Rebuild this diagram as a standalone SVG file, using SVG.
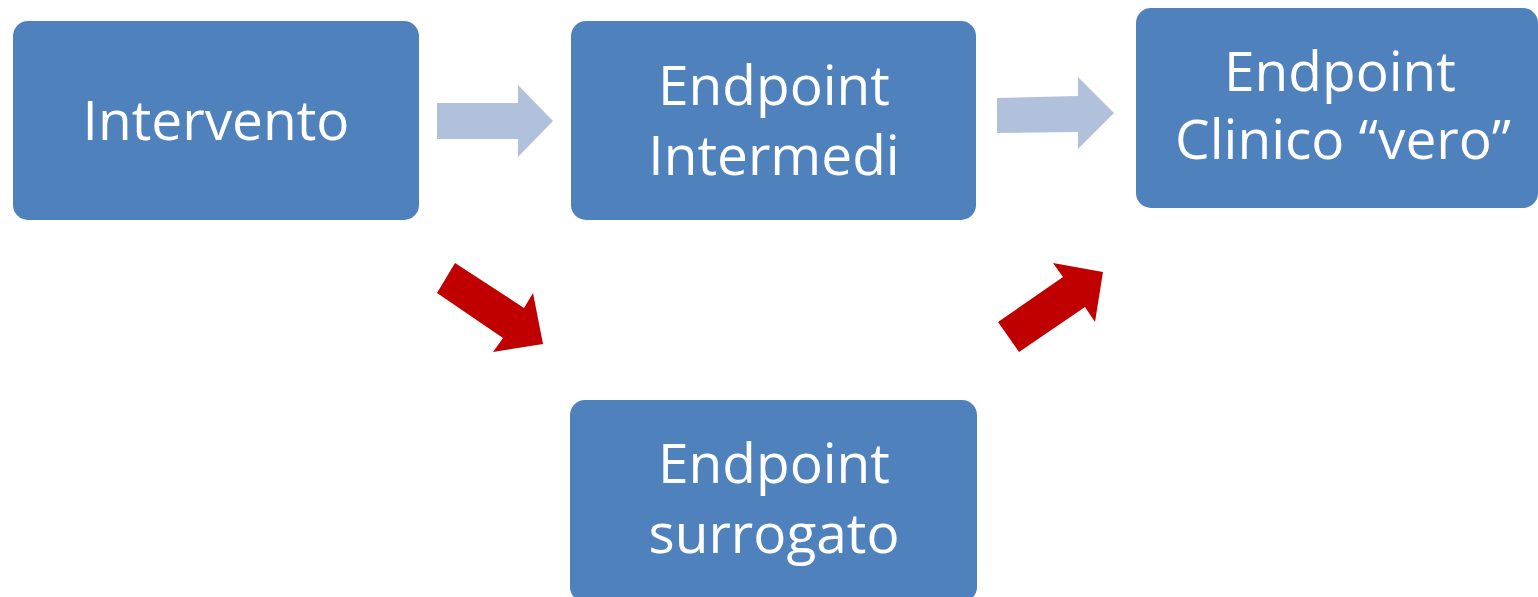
<svg xmlns="http://www.w3.org/2000/svg" width="1538" height="597" viewBox="0 0 1538 597">
<style>
.box{fill:#4F81BD}
.t{font-family:"Open Sans","Noto Sans",sans-serif;font-size:55px;fill:#FFFFFF;text-anchor:middle}
.light{fill:#B2C1DB}
.red{fill:#C00000}
</style>
<rect width="1538" height="597" fill="#FFFFFF"/>
<g id="connectors">
<polygon class="light" points="437,103 518,103 518,85 553,121 518,157 518,139 437,139"/>
<polygon class="light" points="997,98 1078,96 1078,77 1114,113 1078,149 1078,132 997,133"/>
<polygon class="red" points="455,263 524,308 533,293 543,344 493,352 503,338 437,293"/>
<polygon class="red" points="998,322 1063,277 1053,263 1103,272 1095,322 1085,307 1019,352"/>
</g>
<g id="node-intervento">
<rect class="box" x="13" y="21" width="406" height="199" rx="15"/>
<text class="t" x="216" y="140">Intervento</text>
</g>
<g id="node-intermedi">
<rect class="box" x="571" y="21" width="405" height="199" rx="15"/>
<text class="t" x="774" y="105">Endpoint</text>
<text class="t" x="774" y="175">Intermedi</text>
</g>
<g id="node-clinico">
<rect class="box" x="1136" y="8" width="402" height="200" rx="15"/>
<text class="t" x="1340" y="91">Endpoint</text>
<text class="t" x="1343" y="159">Clinico “vero”</text>
</g>
<g id="node-surrogato">
<rect class="box" x="570" y="400" width="407" height="202" rx="15"/>
<text class="t" x="774" y="483">Endpoint</text>
<text class="t" x="774" y="553">surrogato</text>
</g>
</svg>
